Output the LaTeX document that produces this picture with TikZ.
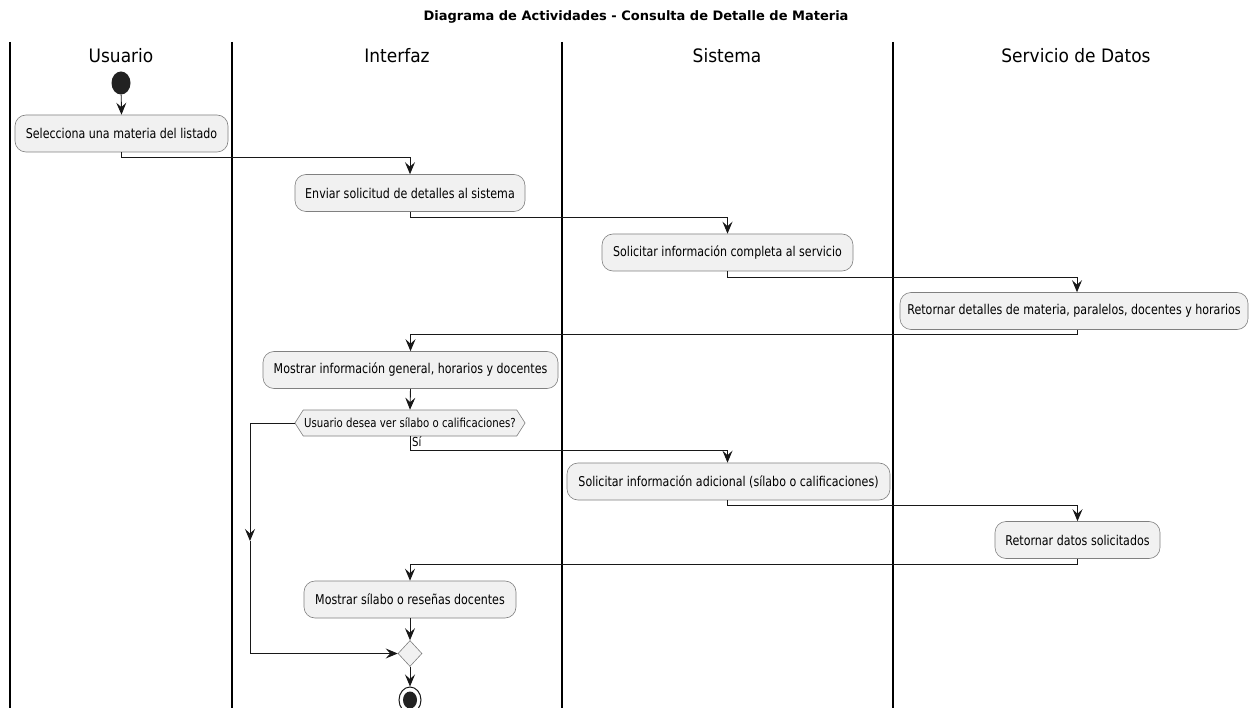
\documentclass[tikz,border=0pt]{standalone}
\usepackage{fontspec}
\setmainfont{DejaVu Sans}
\newfontfamily\boxfont{DejaVu Sans}[FakeStretch=0.82]
\newfontfamily\headfont{DejaVu Sans}[FakeStretch=0.92]
\usetikzlibrary{arrows.meta,shapes.symbols,shapes.geometric}
\definecolor{boxfill}{HTML}{F1F1F1}
\definecolor{lineclr}{HTML}{181818}
\definecolor{dotclr}{HTML}{222222}
\begin{document}
\begin{tikzpicture}[x=1pt,y=-1pt,
  act/.style={draw=lineclr!55, fill=boxfill, rounded corners=11pt, minimum height=37pt,
    font=\boxfont\fontsize{13.5}{16}\selectfont, inner xsep=4pt, line width=0.6pt},
  flow/.style={draw=lineclr, line width=0.9pt, -{Stealth[length=12pt,width=10pt,inset=4.5pt]}},
  lane/.style={draw=black, line width=1.3pt},
  lanehead/.style={font=\headfont\fontsize{18.5}{22}\selectfont},
  decision/.style={shape=signal, signal to=east and west, signal pointer angle=115,
    draw=lineclr!55, fill=boxfill, line width=0.6pt, minimum height=26pt, inner ysep=1pt,
    inner xsep=1pt, font=\boxfont\fontsize{12.4}{14}\selectfont},
  merge/.style={shape=diamond, draw=lineclr!55, fill=boxfill, line width=0.6pt,
    minimum width=24pt, minimum height=26pt, inner sep=0pt}]
\useasboundingbox (0,0) rectangle (1250,708);
\fill[white] (0,0) rectangle (1250,708);
% title
\node[font=\bfseries\fontsize{13}{15}\selectfont] (title) at (636,17) {Diagrama de Actividades - Consulta de Detalle de Materia};
% lanes
\draw[lane] (10,42) -- (10,708);
\draw[lane] (232,42) -- (232,708);
\draw[lane] (562,42) -- (562,708);
\draw[lane] (893,42) -- (893,708);
\node[lanehead] (h1) at (121,56) {Usuario};
\node[lanehead] (h2) at (397,56) {Interfaz};
\node[lanehead] (h3) at (727,56) {Sistema};
\node[lanehead] (h4) at (1076,56) {Servicio de Datos};
% start
\node[ellipse, fill=dotclr, minimum width=19pt, minimum height=23pt, inner sep=0pt] (start) at (121,83) {};
% activities
\node[act, minimum width=213pt] (a1) at (121.5,133.5) {Selecciona una materia del listado};
\node[act, minimum width=230pt] (a2) at (410,193) {Enviar solicitud de detalles al sistema};
\node[act, minimum width=251pt] (a3) at (727.5,252.5) {Solicitar información completa al servicio};
\node[act, minimum width=348pt] (a4) at (1074,311) {Retornar detalles de materia, paralelos, docentes y horarios};
\node[act, minimum width=295pt] (a5) at (410.5,370) {Mostrar información general, horarios y docentes};
\node[decision] (d1) at (410,423) {Usuario desea ver sílabo o calificaciones?};
\node[act, minimum width=323pt] (a6) at (728.5,481.5) {Solicitar información adicional (sílabo o calificaciones)};
\node[act, minimum width=165pt] (a7) at (1077.5,540) {Retornar datos solicitados};
\node[act, minimum width=212pt] (a8) at (410,599.5) {Mostrar sílabo o reseñas docentes};
\node[merge] (m1) at (410,653.5) {};
\node[ellipse, draw=lineclr, line width=1pt, fill=white, minimum width=22pt, minimum height=26pt, inner sep=0pt] (endo) at (410,700) {};
\node[ellipse, fill=dotclr, minimum width=14pt, minimum height=17pt, inner sep=0pt] (endi) at (410,700) {};
% connectors
\draw[flow] (start) -- (a1.north);
\draw[flow] (a1.south) -- ++(0,5) -| (a2.north);
\draw[flow] (a2.south) -- ++(0,6) -| (a3.north);
\draw[flow] (a3.south) -- ++(0,6) -| ([xshift=3pt]a4.north);
\draw[flow] ([xshift=3pt]a4.south) -- ++(0,5) -| (a5.north);
\draw[flow] (a5.south) -- (d1.north);
\draw[flow] (d1.south) -- ++(0,14) -| (a6.north -| a3.south);
\draw[flow] (a6.south -| a3.south) -- ++(0,5) -| (a7.north);
\draw[flow] (a7.south) -- ++(0,6) -| (a8.north);
\draw[flow] (a8.south) -- (m1.north);
\draw[flow] (m1.south) -- (endo.north);
\coordinate (lb) at (250,423);
\coordinate (lbm) at (250,541);
\coordinate (lb2) at (250,653.5);
\draw[flow] (d1.west) -- (lb) -- (lbm);
\draw[flow] (lbm) -- (lb2) -- (m1.west);
\node[anchor=west, font=\boxfont\fontsize{12.4}{14}\selectfont, inner sep=1pt] (si) at (411,442) {Sí};
\end{tikzpicture}
\end{document}
